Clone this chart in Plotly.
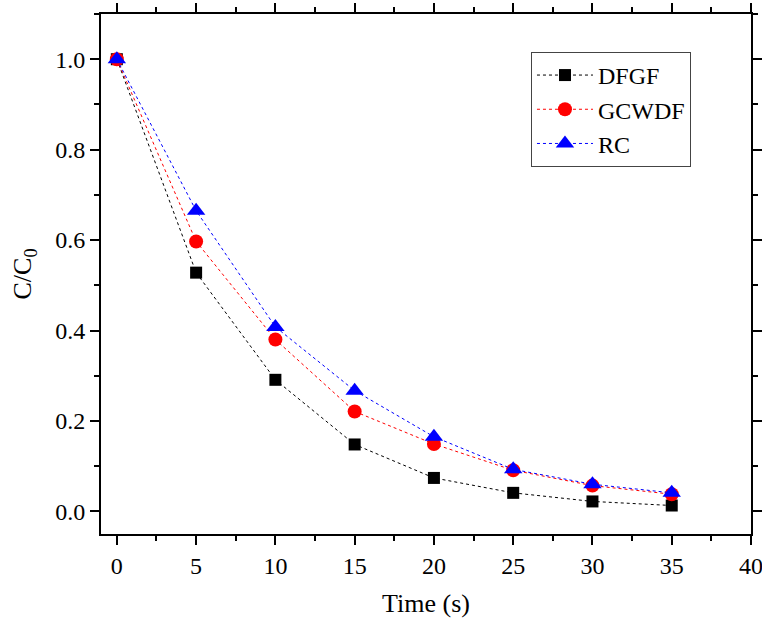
import plotly.graph_objects as go

time = [0, 5, 10, 15, 20, 25, 30, 35]
dfgf = [1.0, 0.528, 0.291, 0.148, 0.074, 0.041, 0.022, 0.013]
gcwdf = [1.0, 0.597, 0.38, 0.221, 0.149, 0.091, 0.057, 0.038]
rc = [1.0, 0.665, 0.408, 0.267, 0.165, 0.093, 0.06, 0.041]

series = [
    ("DFGF", dfgf, "black", "square", 12),
    ("GCWDF", gcwdf, "red", "circle", 14),
    ("RC", rc, "blue", "triangle-up", 16),
]

fig = go.Figure()
for name, ys, col, sym, sz in series:
    fig.add_trace(go.Scatter(
        x=time, y=ys, name=name, mode="lines+markers",
        line=dict(color=col, width=1, dash="3px,3px"),
        marker=dict(symbol=sym, size=sz, color=col),
    ))

font = "Liberation Serif"
axis_common = dict(
    showline=True, linecolor="black", linewidth=2, mirror="allticks",
    ticks="outside", ticklen=9, tickwidth=2, tickcolor="black",
    showgrid=False, zeroline=False, automargin=False,
    ticklabeloverflow="allow",
    tickfont=dict(family=font, size=24, color="black"),
)
fig.update_xaxes(
    range=[-1, 40], tick0=0, dtick=5,
    minor=dict(ticks="outside", ticklen=5, tickwidth=2, dtick=2.5, tick0=0, tickcolor="black"),
    title=dict(text="Time (s)", font=dict(family=font, size=26, color="black"), standoff=16),
    **axis_common,
)
fig.update_yaxes(
    range=[-0.05, 1.1], tick0=0, dtick=0.2, tickformat=".1f",
    minor=dict(ticks="outside", ticklen=5, tickwidth=2, dtick=0.1, tick0=0, tickcolor="black"),
    title=dict(text="C/C<sub>0</sub>", font=dict(family=font, size=26, color="black"), standoff=16),
    **axis_common,
)
fig.update_layout(
    width=762, height=618, autosize=False,
    margin=dict(l=101, r=11, t=14, b=84, pad=0),
    plot_bgcolor="white", paper_bgcolor="white",
    font=dict(family=font, color="black"),
    legend=dict(
        x=0.6615, y=0.927, xanchor="left", yanchor="top",
        bordercolor="#444", borderwidth=1, bgcolor="white",
        font=dict(family=font, size=24, color="black"),
        itemwidth=56, tracegroupgap=0,
    ),
)
fig.write_html("out.html", config={"displayModeBar": False},
               post_script="document.body.style.margin='0';")
